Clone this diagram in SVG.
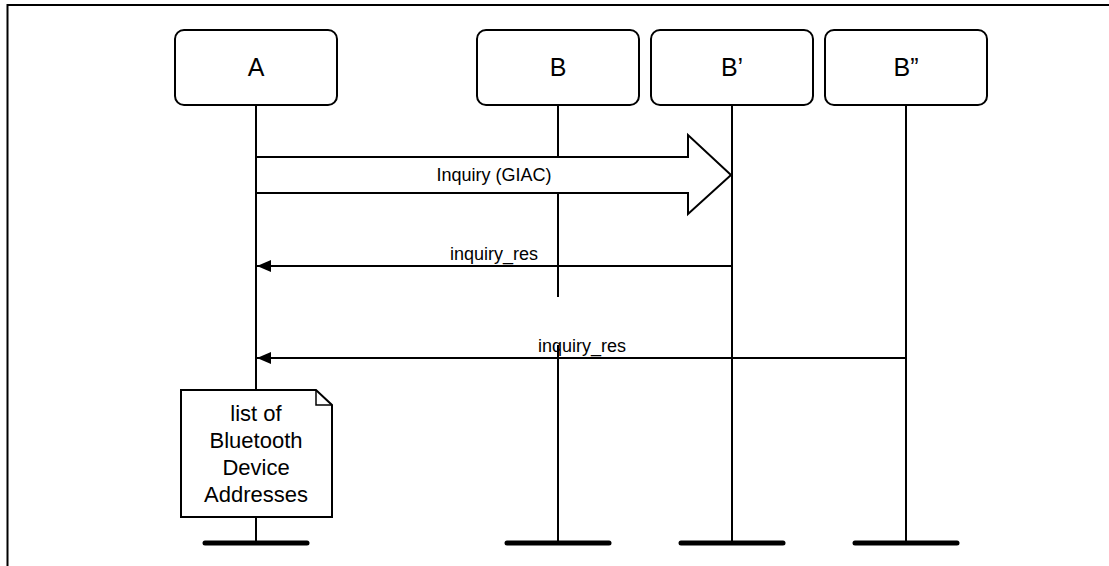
<svg xmlns="http://www.w3.org/2000/svg" width="1109" height="566" viewBox="0 0 1109 566">
  <style>
    .box { fill: #ffffff; stroke: #000000; stroke-width: 2; }
    .life { stroke: #000000; stroke-width: 2; fill: none; }
    .bar { stroke: #000000; stroke-width: 5; stroke-linecap: round; fill: none; }
    .msg { stroke: #000000; stroke-width: 2; fill: none; }
    .lbl { font-family: "Liberation Sans", Arial, sans-serif; fill: #000000; text-anchor: middle; }
    .name { font-size: 25px; }
    .mtext { font-size: 18px; }
    .ntext { font-size: 22px; }
  </style>
  <defs>
    <marker id="ah" markerWidth="14" markerHeight="12" refX="14" refY="6" orient="auto" markerUnits="userSpaceOnUse">
      <path d="M0,0 L14,6 L0,12 Z" fill="#000000"/>
    </marker>
  </defs>
  <rect width="1109" height="566" fill="#ffffff"/>
  <g id="frame">
    <path d="M7.5,566 L7.5,5 L1109,5" fill="none" stroke="#000000" stroke-width="2"/>
  </g>

  <g id="lifelines">
    <line class="life" x1="256" y1="105" x2="256" y2="390"/>
    <line class="life" x1="256" y1="517" x2="256" y2="543"/>
    <line class="life" x1="558" y1="105" x2="558" y2="297"/>
    <line class="life" x1="558" y1="345" x2="558" y2="543"/>
    <line class="life" x1="732" y1="105" x2="732" y2="543"/>
    <line class="life" x1="906" y1="105" x2="906" y2="543"/>
    <line class="bar" x1="205" y1="543" x2="307" y2="543"/>
    <line class="bar" x1="507" y1="543" x2="609" y2="543"/>
    <line class="bar" x1="681" y1="543" x2="783" y2="543"/>
    <line class="bar" x1="855" y1="543" x2="957" y2="543"/>
  </g>

  <g id="node-A">
    <rect class="box" x="175" y="30" width="162" height="75" rx="9"/>
    <text class="lbl name" x="256" y="76">A</text>
  </g>
  <g id="node-B">
    <rect class="box" x="477" y="30" width="162" height="75" rx="9"/>
    <text class="lbl name" x="558" y="76">B</text>
  </g>
  <g id="node-B1">
    <rect class="box" x="651" y="30" width="162" height="75" rx="9"/>
    <text class="lbl name" x="732" y="76">B’</text>
  </g>
  <g id="node-B2">
    <rect class="box" x="825" y="30" width="162" height="75" rx="9"/>
    <text class="lbl name" x="906" y="76">B”</text>
  </g>

  <g id="connectors">
    <g id="inquiry">
      <polygon points="256,157 688,157 688,135 731,175 688,214 688,193 256,193" fill="#ffffff" stroke="#000000" stroke-width="2"/>
      <text class="lbl mtext" x="494" y="181">Inquiry (GIAC)</text>
    </g>
    <g id="res1">
      <line class="msg" x1="732" y1="266" x2="257" y2="266" marker-end="url(#ah)"/>
      <text class="lbl mtext" x="494" y="260">inquiry_res</text>
    </g>
    <g id="res2">
      <line class="msg" x1="906" y1="358" x2="257" y2="358" marker-end="url(#ah)"/>
      <text class="lbl mtext" x="582" y="352">inquiry_res</text>
    </g>
  </g>

  <g id="note">
    <path d="M181,390 L316,390 L332,405 L332,517 L181,517 Z" fill="#ffffff" stroke="#000000" stroke-width="2"/>
    <path d="M316,390 L316,405 L332,405" fill="none" stroke="#000000" stroke-width="1.5"/>
    <text class="lbl ntext" x="256" y="421">list of</text>
    <text class="lbl ntext" x="256" y="448">Bluetooth</text>
    <text class="lbl ntext" x="256" y="475">Device</text>
    <text class="lbl ntext" x="256" y="502">Addresses</text>
  </g>
</svg>
